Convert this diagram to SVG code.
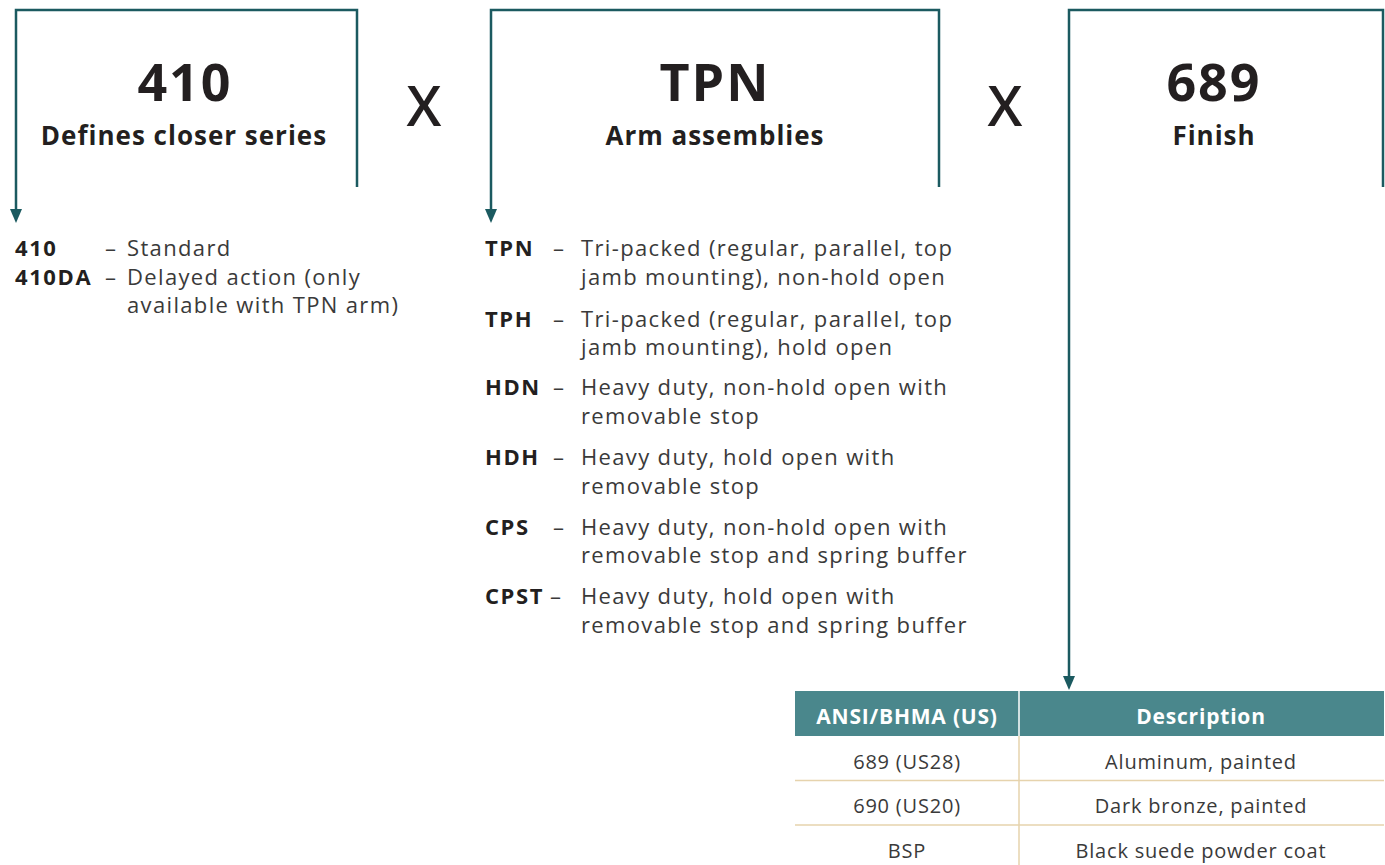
<svg xmlns="http://www.w3.org/2000/svg" width="1385" height="865" viewBox="0 0 1385 865">
<style>
.ln{fill:none;stroke:#1b5a60;stroke-width:2.5}
.big{font-family:"Open Sans","Liberation Sans",sans-serif;font-weight:700;font-size:52px;letter-spacing:2px;fill:#231f20;text-anchor:middle}
.sub{font-family:"Open Sans","Liberation Sans",sans-serif;font-weight:700;font-size:26px;letter-spacing:1px;fill:#231f20;text-anchor:middle}
.x{font-family:"Open Sans","Liberation Sans",sans-serif;font-weight:600;font-size:56px;fill:#231f20;text-anchor:middle}
.k{font-family:"Open Sans","Liberation Sans",sans-serif;font-weight:700;font-size:22px;letter-spacing:1.6px;fill:#231f20}
.t{font-family:"Open Sans","Liberation Sans",sans-serif;font-weight:400;font-size:22px;letter-spacing:1.35px;fill:#3a3a3a}
.th{font-family:"Open Sans","Liberation Sans",sans-serif;font-weight:700;font-size:21px;letter-spacing:0.8px;fill:#ffffff;text-anchor:middle}
.td{font-family:"Open Sans","Liberation Sans",sans-serif;font-weight:400;font-size:20px;letter-spacing:0.8px;fill:#3a3a3a;text-anchor:middle}
.sep{stroke:#e6d3ad;stroke-width:1.5}
</style>
<g id="connectors">
<path class="ln" d="M357,187 V10 H16 V210"/>
<path d="M10,209 L22,209 L16,223 Z" fill="#1b5a60"/>
<path class="ln" d="M939,187 V10 H491 V210"/>
<path d="M485,209 L497,209 L491,223 Z" fill="#1b5a60"/>
<path class="ln" d="M1383,187 V10 H1069 V677"/>
<path d="M1063,676 L1075,676 L1069,690 Z" fill="#1b5a60"/>
</g>
<g id="node-410">
<text class="big" x="185" y="101">410</text>
<text class="sub" x="184" y="145">Defines closer series</text>
</g>
<g id="x1"><text class="x" x="424" y="126">X</text></g>
<g id="node-tpn">
<text class="big" x="715" y="101">TPN</text>
<text class="sub" x="715" y="145">Arm assemblies</text>
</g>
<g id="x2"><text class="x" x="1005" y="126">X</text></g>
<g id="node-689">
<text class="big" x="1214" y="101">689</text>
<text class="sub" x="1214" y="145">Finish</text>
</g>
<g id="series-list">
<text class="k" x="15" y="256">410</text>
<text class="t" x="105" y="256">–</text>
<text class="t" x="127" y="256">Standard</text>
<text class="k" x="15" y="285">410DA</text>
<text class="t" x="105" y="285">–</text>
<text class="t" x="127" y="285">Delayed action (only</text>
<text class="t" x="127" y="313">available with TPN arm)</text>
</g>
<g id="arm-list">
<text class="k" x="485" y="256">TPN</text><text class="t" x="553" y="256">–</text>
<text class="t" x="581" y="256">Tri-packed (regular, parallel, top</text>
<text class="t" x="581" y="285">jamb mounting), non-hold open</text>
<text class="k" x="485" y="327">TPH</text><text class="t" x="553" y="327">–</text>
<text class="t" x="581" y="327">Tri-packed (regular, parallel, top</text>
<text class="t" x="581" y="355">jamb mounting), hold open</text>
<text class="k" x="485" y="395">HDN</text><text class="t" x="553" y="395">–</text>
<text class="t" x="581" y="395">Heavy duty, non-hold open with</text>
<text class="t" x="581" y="424">removable stop</text>
<text class="k" x="485" y="465">HDH</text><text class="t" x="553" y="465">–</text>
<text class="t" x="581" y="465">Heavy duty, hold open with</text>
<text class="t" x="581" y="494">removable stop</text>
<text class="k" x="485" y="535">CPS</text><text class="t" x="553" y="535">–</text>
<text class="t" x="581" y="535">Heavy duty, non-hold open with</text>
<text class="t" x="581" y="563">removable stop and spring buffer</text>
<text class="k" x="485" y="604">CPST</text><text class="t" x="550" y="604">–</text>
<text class="t" x="581" y="604">Heavy duty, hold open with</text>
<text class="t" x="581" y="633">removable stop and spring buffer</text>
</g>
<g id="finish-table">
<rect x="795" y="691" width="589" height="45" fill="#4a878c"/>
<line x1="1019" y1="691" x2="1019" y2="736" stroke="#ffffff" stroke-width="1.5"/>
<text class="th" x="907" y="724">ANSI/BHMA (US)</text>
<text class="th" x="1201" y="724">Description</text>
<line class="sep" x1="1019" y1="736" x2="1019" y2="865"/>
<line class="sep" x1="795" y1="780.5" x2="1384" y2="780.5"/>
<line class="sep" x1="795" y1="825" x2="1384" y2="825"/>
<text class="td" x="907" y="769">689 (US28)</text>
<text class="td" x="1201" y="769">Aluminum, painted</text>
<text class="td" x="907" y="813">690 (US20)</text>
<text class="td" x="1201" y="813">Dark bronze, painted</text>
<text class="td" x="907" y="858">BSP</text>
<text class="td" x="1201" y="858">Black suede powder coat</text>
</g>
</svg>
